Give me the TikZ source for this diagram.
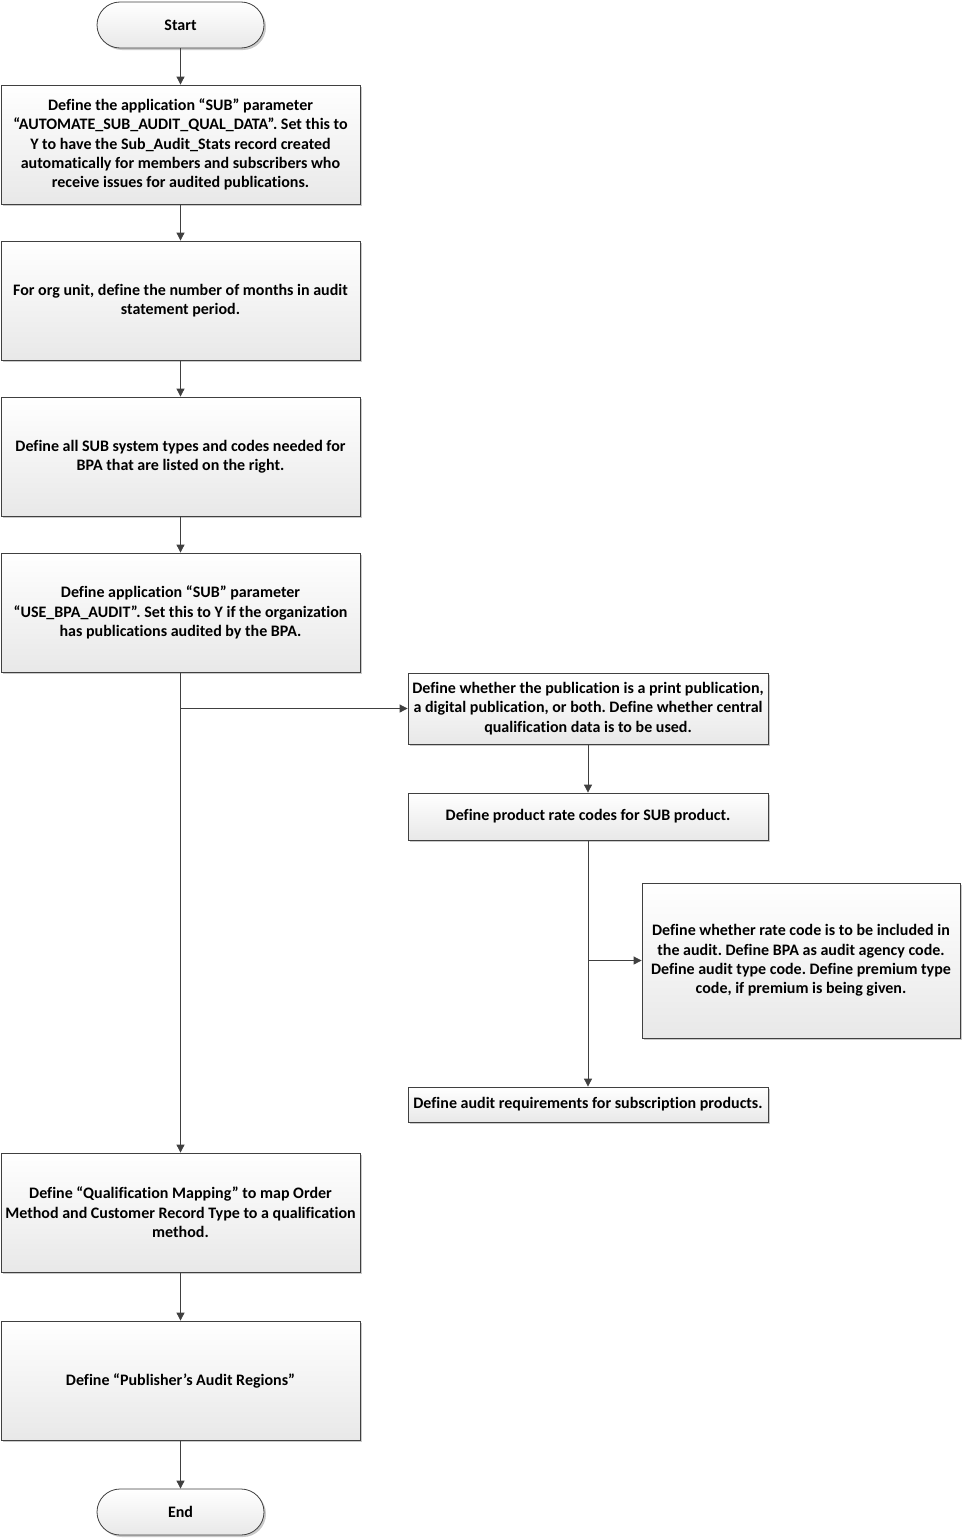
\documentclass[tikz,border=0pt]{standalone}
\usepackage{fontspec}
\setmainfont[Ligatures=CommonOff]{Carlito}
\usetikzlibrary{shadows,arrows.meta}
\definecolor{edge}{HTML}{404040}
\tikzset{
  base/.style={draw=edge, line width=0.8pt, top color=white, bottom color=black!9,
     drop shadow={shadow xshift=2pt, shadow yshift=-2pt, fill=black!35, opacity=0.6},
     align=center, font=\bfseries\frenchspacing\fontsize{16}{19.4}\selectfont, inner xsep=1pt, inner ysep=0pt},
  proc/.style={base, rectangle, minimum width=#1},
  term/.style={base, rounded corners=23pt, minimum width=167pt, minimum height=46pt},
  conn/.style={draw=edge, line width=0.8pt, -{Triangle[length=8pt,width=8pt]}},
  link/.style={draw=edge, line width=0.8pt}
}
\begin{document}
\begin{tikzpicture}[x=1pt,y=-1pt]
\useasboundingbox (0,0) rectangle (963,1539);
\node[term] (start) at (180.5,25) {Start};
\node[proc=359pt, minimum height=119pt] (b1) at (180.5,144.5) {Define the application “SUB” parameter\\“AUTOMATE\_SUB\_AUDIT\_QUAL\_DATA”. Set this to\\Y to have the Sub\_Audit\_Stats record created\\automatically for members and subscribers who\\receive issues for audited publications.};
\node[proc=359pt, minimum height=119pt] (b2) at (180.5,300.5) {For org unit, define the number of months in audit\\statement period.};
\node[proc=359pt, minimum height=119pt] (b3) at (180.5,456.5) {Define all SUB system types and codes needed for\\BPA that are listed on the right.};
\node[proc=359pt, minimum height=119pt] (b4) at (180.5,612.5) {Define application “SUB” parameter\\“USE\_BPA\_AUDIT”. Set this to Y if the organization\\has publications audited by the BPA.};
\node[proc=360pt, minimum height=71pt] (b5) at (588,708.5) {Define whether the publication is a print publication,\\a digital publication, or both. Define whether central\\qualification data is to be used.};
\node[proc=360pt, minimum height=47pt] (b6) at (588,816.5) {Define product rate codes for SUB product.};
\node[proc=318pt, minimum height=155pt] (b7) at (801,960.5) {Define whether rate code is to be included in\\the audit. Define BPA as audit agency code.\\Define audit type code. Define premium type\\code, if premium is being given.};
\node[proc=360pt, minimum height=35pt] (b8) at (588,1104.5) {Define audit requirements for subscription products.};
\node[proc=359pt, minimum height=119pt] (b9) at (180.5,1212.5) {Define “Qualification Mapping” to map Order\\Method and Customer Record Type to a qualification\\method.};
\node[proc=359pt, minimum height=119pt] (b10) at (180.5,1380.5) {Define “Publisher’s Audit Regions”};
\node[term] (end) at (180.5,1512) {End};
\coordinate (j1) at (180.5,708.5);
\coordinate (j2) at (588,960.5);
\draw[conn] (start) -- (b1);
\draw[conn] (b1) -- (b2);
\draw[conn] (b2) -- (b3);
\draw[conn] (b3) -- (b4);
\draw[conn] (b4) -- (b9);
\draw[conn] (j1) -- (b5);
\draw[conn] (b5) -- (b6);
\draw[conn] (b6) -- (b8);
\draw[conn] (j2) -- (b7);
\draw[conn] (b9) -- (b10);
\draw[conn] (b10) -- (end);
\end{tikzpicture}
\end{document}
